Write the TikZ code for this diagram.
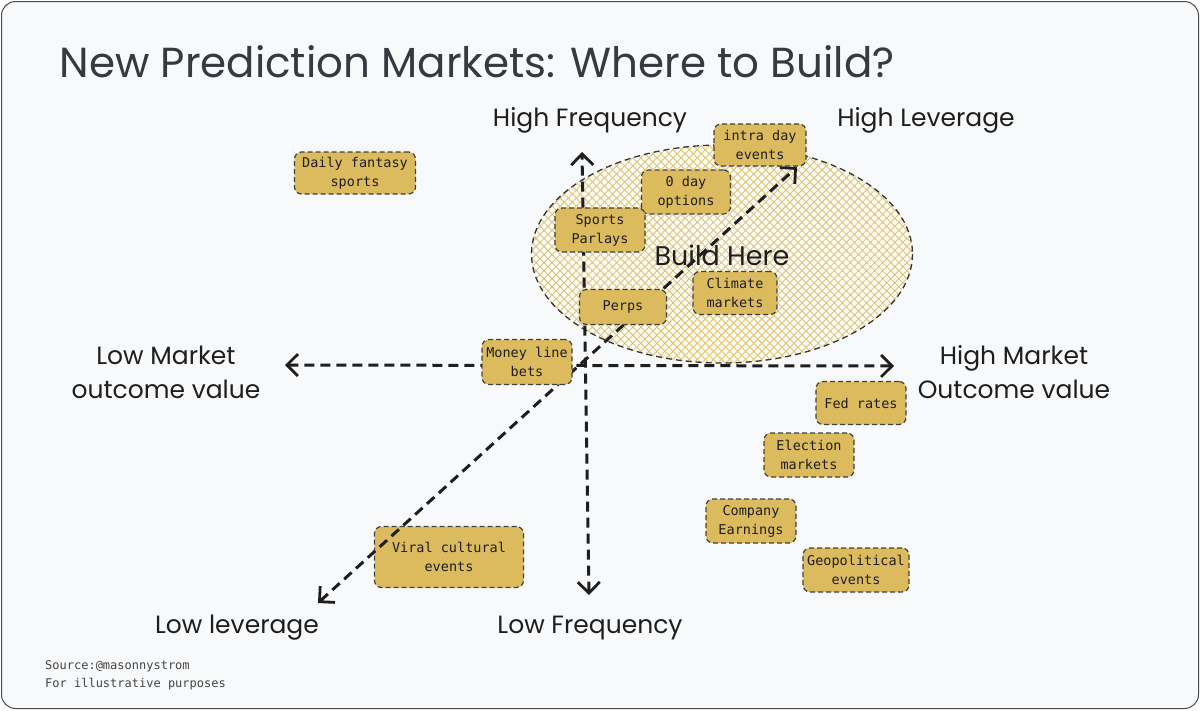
\documentclass[tikz,border=0pt]{standalone}
\usepackage{fontspec}
\setmainfont{Poppins}
\newfontfamily\hand{Poppins}
\newfontfamily\mono{DejaVu Sans Mono}
\usetikzlibrary{arrows.meta,patterns.meta,shapes.geometric}
\definecolor{bg}{HTML}{F8F9FA}
\definecolor{ink}{HTML}{1E1E1E}
\definecolor{titleink}{HTML}{343A40}
\definecolor{boxfill}{HTML}{DBBB5E}
\definecolor{hatch}{HTML}{DCC47C}
\definecolor{cream}{HTML}{FDFBF3}
\definecolor{graytext}{HTML}{444444}
\tikzset{
  mbox/.style={draw=ink!85, line width=1.2pt, dash pattern=on 5pt off 3pt, rounded corners=7pt,
    fill=boxfill, font=\mono\fontsize{13.5}{19}\selectfont, text=ink, align=center, inner sep=0pt},
  axislabel/.style={font=\hand\fontsize{25}{34}\selectfont, text=ink, align=center},
  axis/.style={draw=ink, line width=3pt, dash pattern=on 10pt off 6pt,
    {Straight Barb[length=11pt,width=22pt,line width=2.8pt]}-{Straight Barb[length=11pt,width=22pt,line width=2.8pt]}},
}
\begin{document}
\begin{tikzpicture}[x=1pt,y=-1pt]
\useasboundingbox (0,0) rectangle (1200,710);
\draw[fill=bg, draw=ink!80, line width=1pt, rounded corners=14pt] (1.5,1.5) rectangle (1198.5,708.5);

% title
\node[anchor=west, font=\hand\fontsize{42}{46}\selectfont, text=titleink] (title) at (56,62) {New Prediction Markets: Where to Build?};

% ellipse zone
\node[ellipse, minimum width=381pt, minimum height=218pt, fill=cream, inner sep=0pt] (zone) at (722,254) {};
\fill[pattern={Lines[angle=45,distance=5.7pt,line width=0.9pt]}, pattern color=hatch] (722,254) ellipse [x radius=190.5, y radius=109];
\fill[pattern={Lines[angle=-45,distance=5.7pt,line width=0.9pt]}, pattern color=hatch] (722,254) ellipse [x radius=190.5, y radius=109];
\draw[draw=ink!90, line width=1.3pt, dash pattern=on 6pt off 4pt] (722,254) ellipse [x radius=190.5, y radius=109];

% box drawn beneath axes
\node[mbox, minimum width=149pt, minimum height=61pt] (viral) at (449,557) {Viral cultural\\events};

% axis ends
\coordinate (left) at (285,365);
\coordinate (right) at (894,366);
\coordinate (top) at (582,152);
\coordinate (bottom) at (589,595);
\coordinate (ll) at (318,603);
\coordinate (hl) at (797,167);

\draw[axis] (left) -- (right);
\draw[axis] (bottom) -- (top);
\draw[axis] (ll) -- (hl);

% labels
\node[axislabel] (hf) at (590,120) {High Frequency};
\node[axislabel] (hlev) at (926,120) {High Leverage};
\node[axislabel] (lf) at (590,628) {Low Frequency};
\node[axislabel] (llev) at (237,628) {Low leverage};
\node[axislabel] (lmv) at (166,372) {Low Market\\outcome value};
\node[axislabel] (hmv) at (1014,372) {High Market\\Outcome value};
\node[font=\hand\fontsize{27}{30}\selectfont, text=ink] (build) at (722,255) {Build Here};

% boxes
\node[mbox, minimum width=121pt, minimum height=42pt] (dfs) at (355,173) {Daily fantasy\\sports};
\node[mbox, minimum width=92pt, minimum height=42pt] (intra) at (760,145) {intra day\\events};
\node[mbox, minimum width=89pt, minimum height=44pt] (zero) at (686,192) {0 day\\options};
\node[mbox, minimum width=90pt, minimum height=44pt] (parlay) at (600,230) {Sports\\Parlays};
\node[mbox, minimum width=87pt, minimum height=35pt] (perps) at (623,307) {Perps};
\node[mbox, minimum width=84pt, minimum height=43pt] (climate) at (735,293) {Climate\\markets};
\node[mbox, minimum width=90pt, minimum height=45pt] (money) at (527,362) {Money line\\bets};
\node[mbox, minimum width=90pt, minimum height=43pt] (fed) at (861,403) {Fed rates};
\node[mbox, minimum width=90pt, minimum height=44pt] (election) at (809,455) {Election\\markets};
\node[mbox, minimum width=90pt, minimum height=44pt] (company) at (751,521) {Company\\Earnings};
\node[mbox, minimum width=106pt, minimum height=44pt] (geo) at (856,570) {Geopolitical\\events};

% source
\node[anchor=north west, font=\mono\fontsize{12}{18}\selectfont, text=graytext, align=left, inner sep=0pt] (src) at (45,660) {Source:@masonnystrom\\For illustrative purposes};
\end{tikzpicture}
\end{document}
